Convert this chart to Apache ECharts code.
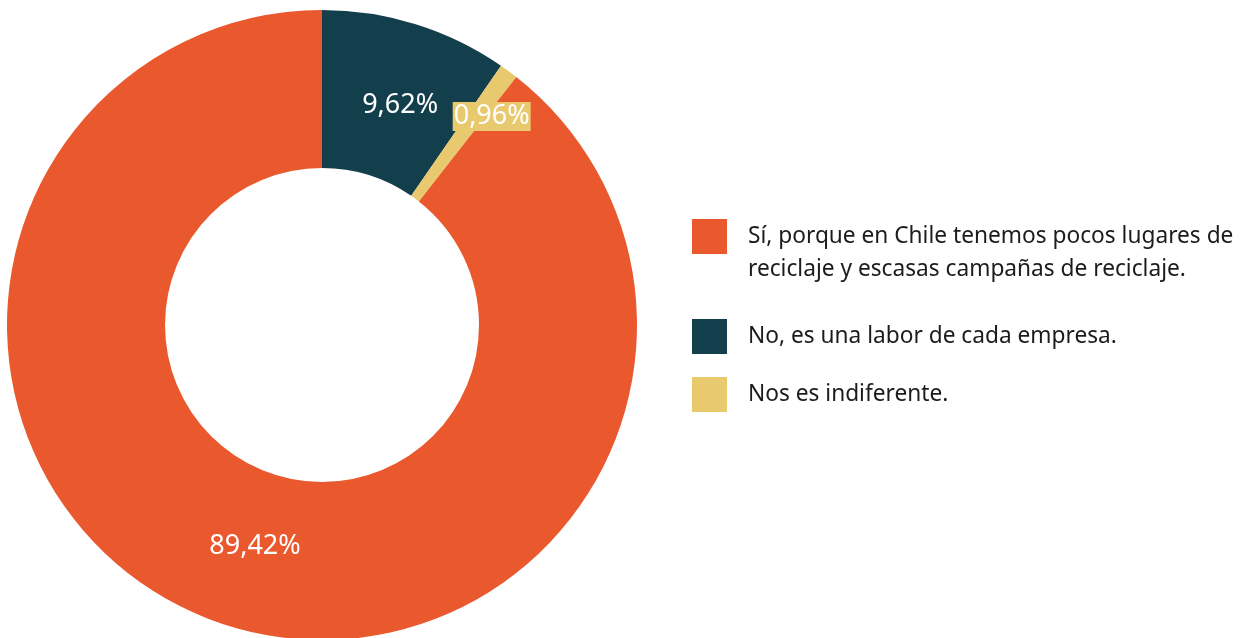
<!DOCTYPE html>
<html>
<head>
<meta charset="utf-8">
<script src="https://cdn.jsdelivr.net/npm/echarts@6/dist/echarts.min.js"></script>
<style>
  html, body { margin: 0; padding: 0; background: #fff; }
  #chart { width: 1241px; height: 638px; }
</style>
</head>
<body>
<div id="chart"></div>
<script>
// respuestas (orden en la leyenda)
var categories = [
    "Sí, porque en Chile tenemos pocos lugares de\nreciclaje y escasas campañas de reciclaje.",
    "No, es una labor de cada empresa.",
    "Nos es indiferente."
];
var values = [89.42, 9.62, 0.96];
var colors = ["#EA582E", "#133E4C", "#E8C96E"];

// orden en el anillo (sentido horario desde arriba)
var ringOrder = [1, 2, 0];

// pequeños ajustes de posición de las etiquetas
var labelOffsets = [[11, -5], [7, 8], [28, -16]];

var myChart = echarts.init(document.getElementById("chart"));

var pieData = ringOrder.map(function (i) {
    var item = {
        name: categories[i],
        value: values[i],
        itemStyle: { color: colors[i] },
        label: { offset: labelOffsets[i] }
    };
    if (i === 2) {
        // etiqueta pequeña con fondo amarillo
        item.label.backgroundColor = colors[2];
        item.label.padding = [2, 1, 0, 1];
    }
    return item;
});

var legendText = {
    fontFamily: "Noto Sans",
    fontSize: 22.7,
    lineHeight: 33,
    color: "#1c1c1c",
    padding: [0, 0, 0, 16]
};

var option = {
    animation: false,
    legend: [
        {
            // primera opción: dos líneas, el cuadro alineado con la primera
            orient: "vertical",
            left: 692,
            top: 187,
            padding: 0,
            itemWidth: 35,
            itemHeight: 35,
            icon: "rect",
            data: [categories[0]],
            formatter: function (name) {
                return "\n" + name;
            },
            textStyle: legendText
        },
        {
            orient: "vertical",
            left: 692,
            top: 319,
            padding: 0,
            itemWidth: 35,
            itemHeight: 35,
            itemGap: 23,
            icon: "rect",
            data: [categories[1], categories[2]],
            textStyle: legendText
        }
    ],
    series: [
        {
            type: "pie",
            center: [322, 325],
            radius: [157, 315],
            startAngle: 90,
            clockwise: true,
            avoidLabelOverlap: false,
            label: {
                show: true,
                position: "inside",
                color: "#fff",
                fontFamily: "Noto Sans",
                fontSize: 27,
                formatter: function (p) {
                    return p.value.toFixed(2).replace(".", ",") + "%";
                }
            },
            labelLine: { show: false },
            emphasis: { disabled: true },
            data: pieData
        }
    ]
};

myChart.setOption(option);
</script>
</body>
</html>
